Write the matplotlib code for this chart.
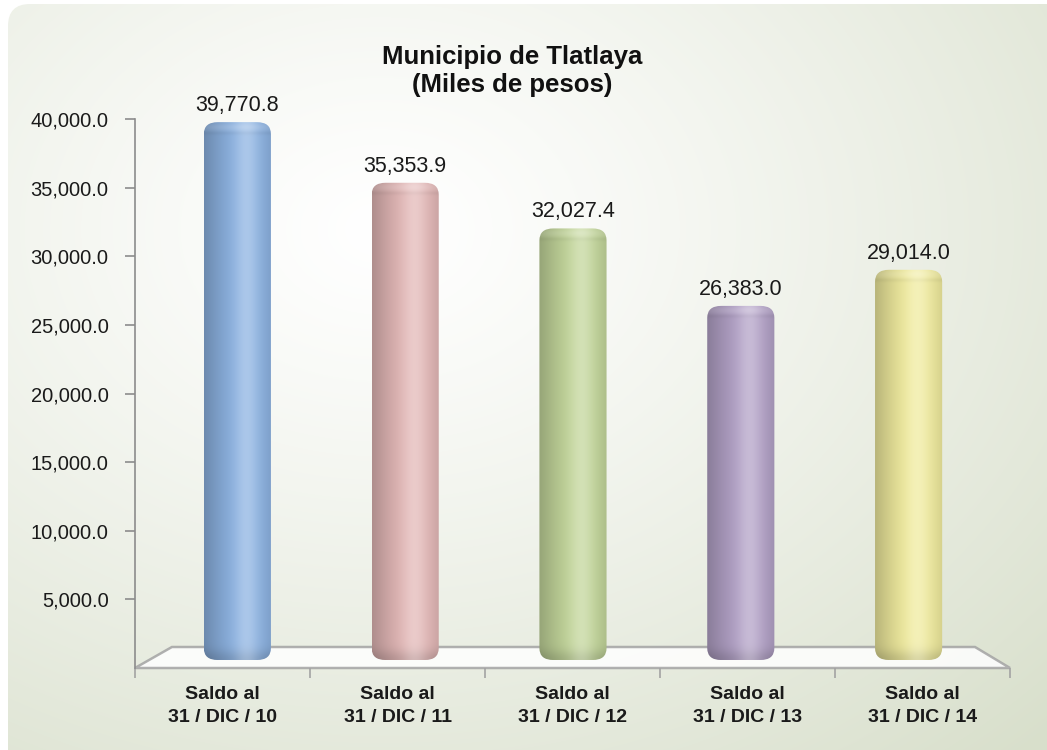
import numpy as np
import matplotlib.pyplot as plt
from matplotlib.patches import FancyBboxPatch, Polygon
from matplotlib.colors import to_rgb

plt.rcParams['font.family'] = ['Liberation Sans', 'DejaVu Sans']

# Saldos al cierre de cada ejercicio (miles de pesos)
categorias = ['Saldo al\n31 / DIC / 10', 'Saldo al\n31 / DIC / 11', 'Saldo al\n31 / DIC / 12',
              'Saldo al\n31 / DIC / 13', 'Saldo al\n31 / DIC / 14']
saldos = [39770.8, 35353.9, 32027.4, 26383.0, 29014.0]
colores = ['#8DB3E2', '#E3B8B7', '#C3D69B', '#B3A2C7', '#F0EB9E']
marcas_y = [5000, 10000, 15000, 20000, 25000, 30000, 35000, 40000]

W, H = 1047, 750
fig = plt.figure(figsize=(W / 100, H / 100), dpi=100)

# --- fondo con degradado y esquina redondeada ---
bg = fig.add_axes([0, 0, 1, 1], zorder=0)
bg.set_xlim(0, W)
bg.set_ylim(0, H)
bg.axis('off')
yy, xx = np.mgrid[0:H, 0:W]
d = np.sqrt(((xx - 380) / 950) ** 2 + ((yy - (H - 230)) / 720) ** 2)
t = np.clip(d, 0, 1) ** 1.2
borde = np.array([216, 223, 203]) / 255
fondo = (1 - t)[..., None] + t[..., None] * borde
im_bg = bg.imshow(fondo, extent=[0, W, 0, H], origin='lower', aspect='auto')
marco = FancyBboxPatch((8, -40), W + 40, H - 4 + 40, boxstyle='round,pad=0,rounding_size=22',
                       fc='none', ec='none')
bg.add_patch(marco)
im_bg.set_clip_path(marco)

# --- ejes principales ---
ax = fig.add_axes([135 / W, 82 / H, 875 / W, 549 / H], zorder=1)
ax.patch.set_alpha(0)
ax.set_xlim(0, 5)
ax.set_ylim(0, 40000)

# piso en perspectiva
prof = 1530
def atras(x):
    return 0.211 + x * (4.8 - 0.211) / 5

piso = Polygon([(0, 0), (5, 0), (atras(5), prof), (atras(0), prof)], closed=True,
               fc='white', ec='#A3A3A3', lw=1.8, alpha=0.85, clip_on=False, zorder=1)
ax.add_patch(piso)

for s in ['top', 'right', 'bottom']:
    ax.spines[s].set_visible(False)
ax.spines['left'].set_color('#8C8C8C')
ax.spines['left'].set_linewidth(1.2)

ax.set_yticks(marcas_y)
ax.set_yticklabels([f'{v:,.1f}' for v in marcas_y])
ax.tick_params(axis='y', direction='out', length=7, color='#8C8C8C', width=1.2,
               labelsize=14.5, pad=12, labelcolor='#1A1A1A')

ax.set_xticks(range(6))
ax.set_xticklabels([])
ax.tick_params(axis='x', which='major', direction='out', length=7, color='#A3A3A3', width=1.2)
ax.set_xticks([i + 0.5 for i in range(5)], minor=True)
ax.set_xticklabels(categorias, minor=True, fontsize=14, fontweight='bold', linespacing=1.45)
ax.tick_params(axis='x', which='minor', length=0, pad=13, labelcolor='#1A1A1A')

# escala de pixeles por unidad de datos
p0 = ax.transData.transform((0, 0))
p1 = ax.transData.transform((1, 1))
px_x = p1[0] - p0[0]
px_y = p1[1] - p0[1]

ancho = 0.4
base = 580
radio_px = 14


def cilindro(color, w_px, h_px):
    nx, ny = 140, int(max(h_px, 50))
    u = np.linspace(0, 1, nx)
    theta = (u - 0.5) * np.pi
    luz = 0.83 + 0.17 * np.cos(theta - 0.35)
    brillo = 0.26 * np.exp(-((u - 0.63) / 0.17) ** 2)
    py = (np.arange(ny)[::-1] + 0.5) * h_px / ny  # distancia desde arriba
    pb = h_px - py                               # distancia desde abajo
    tapa = 0.15 * np.exp(-((py - 5) / 4.0) ** 2)
    sombra = 1 - 0.04 * np.exp(-((py - 11) / 2.0) ** 2) - 0.14 * np.exp(-(pb / 10) ** 2)
    c = np.array(to_rgb(color))
    f = luz[None, :] * sombra[:, None]
    wb = np.clip(brillo[None, :] + tapa[:, None] * (0.6 + 0.4 * np.sin(np.pi * u))[None, :], 0, 1)
    img = c[None, None, :] * f[..., None]
    img = img * (1 - wb[..., None]) + wb[..., None]
    return np.clip(img, 0, 1)


for i, (v, col) in enumerate(zip(saldos, colores)):
    xc = i + 0.5
    xm = (xc + atras(xc)) / 2
    wm = ancho * (1 + (4.8 - 0.211) / 5) / 2
    x0 = xm - wm / 2
    w_px = wm * px_x
    h_px = (v - base) * px_y
    img = cilindro(col, w_px, h_px)
    im = ax.imshow(img, extent=[x0, x0 + wm, base, v], origin='lower', aspect='auto',
                   zorder=3, interpolation='bilinear')
    r = radio_px / px_x
    caja = FancyBboxPatch((x0, base), wm, v - base,
                          boxstyle=f'round,pad=0,rounding_size={r}',
                          mutation_aspect=px_x / px_y * 0.85, fc='none', ec='none')
    ax.add_patch(caja)
    im.set_clip_path(caja)
    ax.annotate(f'{v:,.1f}', (xm, v), xytext=(0, 12), textcoords='offset points',
                ha='center', va='center', fontsize=15.5, color='#1A1A1A')

ax.set_xlim(0, 5)
ax.set_ylim(0, 40000)

fig.text(512 / W, 1 - 71 / H, 'Municipio de Tlatlaya\n(Miles de pesos)', ha='center', va='center',
         fontsize=18.5, fontweight='bold', linespacing=1.2, color='#111111')

fig.savefig('out.png', dpi=100)
